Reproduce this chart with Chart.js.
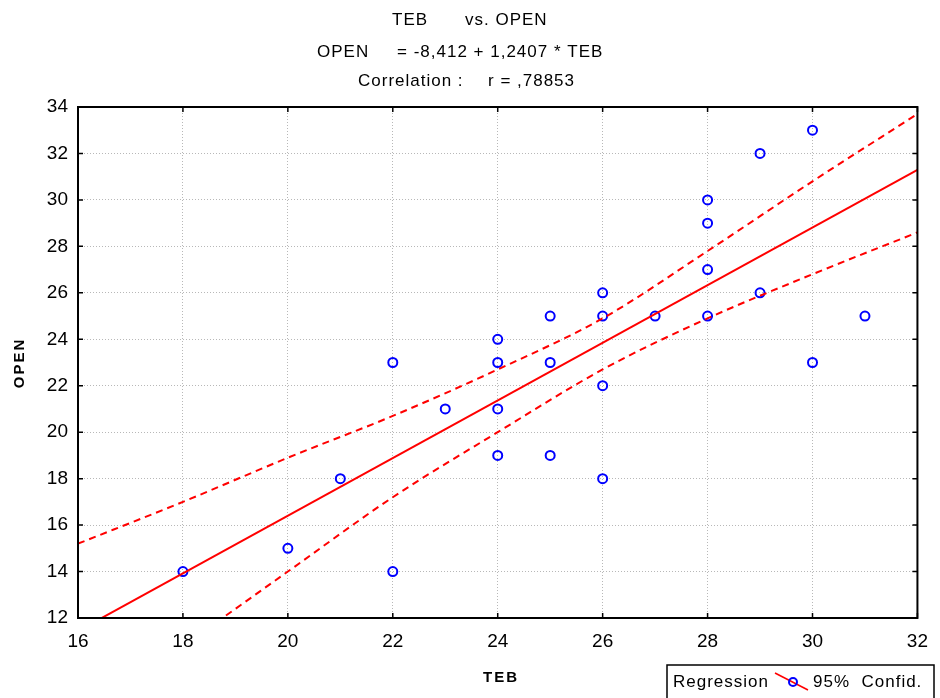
<!DOCTYPE html>
<html>
<head>
<meta charset="utf-8">
<script src="https://cdn.jsdelivr.net/npm/chart.js@4.4.1/dist/chart.umd.min.js"></script>
<style>
  html, body { margin: 0; padding: 0; background: #fff; }
  #wrap { width: 940px; height: 698px; }
</style>
</head>
<body>
<div id="wrap"><canvas id="scatterChart" width="940" height="698"></canvas></div>
<script>
// observed points (TEB, OPEN)
const tebValues  = [18, 20, 21, 22, 22, 23, 24, 24, 24, 24, 25, 25, 25, 26, 26, 26, 26, 27, 28, 28, 28, 28, 29, 29, 30, 30, 31];
const openValues = [14, 15, 18, 23, 14, 21, 24, 23, 21, 19, 25, 23, 19, 26, 25, 22, 18, 25, 30, 29, 27, 25, 32, 26, 33, 23, 25];

// regression line
const regX = [16, 32];
const regY = [11.44, 31.29];

// 95% confidence band
const bandX     = [16, 18, 20, 22, 24, 26, 28, 30, 32];
const bandUpper = [15.2, 17.0, 18.9, 20.7, 22.7, 24.9, 27.8, 30.8, 33.7];
const bandLower = [7.7, 10.8, 14.0, 17.2, 20.0, 22.7, 24.9, 26.8, 28.6];

const xTicks = [16, 18, 20, 22, 24, 26, 28, 30, 32];
const yTicks = [12, 14, 16, 18, 20, 22, 24, 26, 28, 30, 32, 34];

const fontFam = '"Liberation Sans", Arial, sans-serif';
const toPts = (xs, ys) => xs.map((x, i) => ({ x: x, y: ys[i] }));

// frame, titles, axis titles and the little legend box
const decorations = {
    id: 'decorations',
    afterDraw(chart) {
        const ctx = chart.ctx;
        const a = chart.chartArea;
        ctx.save();
        ctx.strokeStyle = '#000';
        ctx.lineWidth = 2;
        ctx.strokeRect(a.left, a.top, a.right - a.left, a.bottom - a.top);

        // small inward tick marks
        ctx.lineWidth = 1.5;
        const xs = chart.scales.x, ys = chart.scales.y;
        xTicks.forEach(v => {
            const px = xs.getPixelForValue(v);
            ctx.beginPath();
            ctx.moveTo(px, a.bottom); ctx.lineTo(px, a.bottom - 5);
            ctx.moveTo(px, a.top); ctx.lineTo(px, a.top + 5);
            ctx.stroke();
        });
        yTicks.forEach(v => {
            const py = ys.getPixelForValue(v);
            ctx.beginPath();
            ctx.moveTo(a.left, py); ctx.lineTo(a.left + 5, py);
            ctx.moveTo(a.right, py); ctx.lineTo(a.right - 5, py);
            ctx.stroke();
        });

        // titles
        ctx.fillStyle = '#000';
        ctx.font = '17px ' + fontFam;
        ctx.letterSpacing = '1px';
        ctx.textBaseline = 'middle';
        ctx.textAlign = 'left';
        ctx.fillText('TEB', 392, 20);
        ctx.fillText('vs. OPEN', 465, 20);
        ctx.fillText('OPEN', 317, 52);
        ctx.fillText('= -8,412 + 1,2407 * TEB', 397, 52);
        ctx.fillText('Correlation :', 358, 81);
        ctx.fillText('r = ,78853', 488, 81);

        // axis titles
        ctx.font = 'bold 15px ' + fontFam;
        ctx.letterSpacing = '2px';
        ctx.textAlign = 'center';
        ctx.fillText('TEB', 501, 678);
        ctx.save();
        ctx.translate(20, 363);
        ctx.rotate(-Math.PI / 2);
        ctx.fillText('OPEN', 0, 0);
        ctx.restore();

        // legend box
        const bx = 667, by = 665, bw = 267, bh = 40;
        ctx.fillStyle = '#fff';
        ctx.fillRect(bx, by, bw, bh);
        ctx.lineWidth = 1.5;
        ctx.strokeStyle = '#000';
        ctx.strokeRect(bx, by, bw, bh);
        ctx.fillStyle = '#000';
        ctx.font = '17px ' + fontFam;
        ctx.letterSpacing = '1px';
        ctx.textAlign = 'left';
        ctx.fillText('Regression', bx + 6, 682);
        ctx.fillText('95%  Confid.', bx + 146, 682);
        ctx.strokeStyle = '#ff0000';
        ctx.lineWidth = 1.5;
        ctx.beginPath();
        ctx.moveTo(bx + 108, 673); ctx.lineTo(bx + 141, 690);
        ctx.stroke();
        ctx.strokeStyle = '#0000ff';
        ctx.lineWidth = 2;
        ctx.beginPath();
        ctx.arc(bx + 126, 682, 4, 0, Math.PI * 2);
        ctx.stroke();
        ctx.restore();
    }
};

const ctx = document.getElementById('scatterChart').getContext('2d');
new Chart(ctx, {
    type: 'scatter',
    data: {
        datasets: [
            {
                label: 'Upper',
                data: toPts(bandX, bandUpper),
                showLine: true,
                borderColor: '#ff0000',
                borderWidth: 2,
                borderDash: [7, 5],
                pointRadius: 0,
                cubicInterpolationMode: 'monotone'
            },
            {
                label: 'Lower',
                data: toPts(bandX, bandLower),
                showLine: true,
                borderColor: '#ff0000',
                borderWidth: 2,
                borderDash: [7, 5],
                pointRadius: 0,
                cubicInterpolationMode: 'monotone'
            },
            {
                label: 'Regression',
                data: toPts(regX, regY),
                showLine: true,
                borderColor: '#ff0000',
                borderWidth: 2,
                pointRadius: 0
            },
            {
                label: 'OPEN',
                data: toPts(tebValues, openValues),
                showLine: false,
                pointRadius: 4.5,
                pointBorderWidth: 2,
                pointBorderColor: '#0000ff',
                pointBackgroundColor: 'rgba(0,0,0,0)'
            }
        ]
    },
    options: {
        responsive: false,
        animation: false,
        layout: { padding: { top: 107, right: 22, left: 0, bottom: 0 } },
        plugins: {
            legend: { display: false },
            tooltip: { enabled: false },
            title: { display: false }
        },
        scales: {
            x: {
                type: 'linear',
                min: 16,
                max: 32,
                afterBuildTicks: s => { s.ticks = xTicks.map(v => ({ value: v })); },
                afterFit: s => { s.height = 80; },
                grid: { color: '#b8b8b8', lineWidth: 1, drawTicks: false },
                border: { display: false, dash: [1, 2] },
                ticks: {
                    color: '#000',
                    font: { family: fontFam, size: 19 },
                    padding: 12,
                    maxRotation: 0
                }
            },
            y: {
                type: 'linear',
                min: 12,
                max: 34,
                afterBuildTicks: s => { s.ticks = yTicks.map(v => ({ value: v })); },
                afterFit: s => { s.width = 78; },
                grid: { color: '#b8b8b8', lineWidth: 1, drawTicks: false },
                border: { display: false, dash: [1, 2] },
                ticks: {
                    color: '#000',
                    font: { family: fontFam, size: 19 },
                    padding: 10
                }
            }
        }
    },
    plugins: [decorations]
});
</script>
</body>
</html>
